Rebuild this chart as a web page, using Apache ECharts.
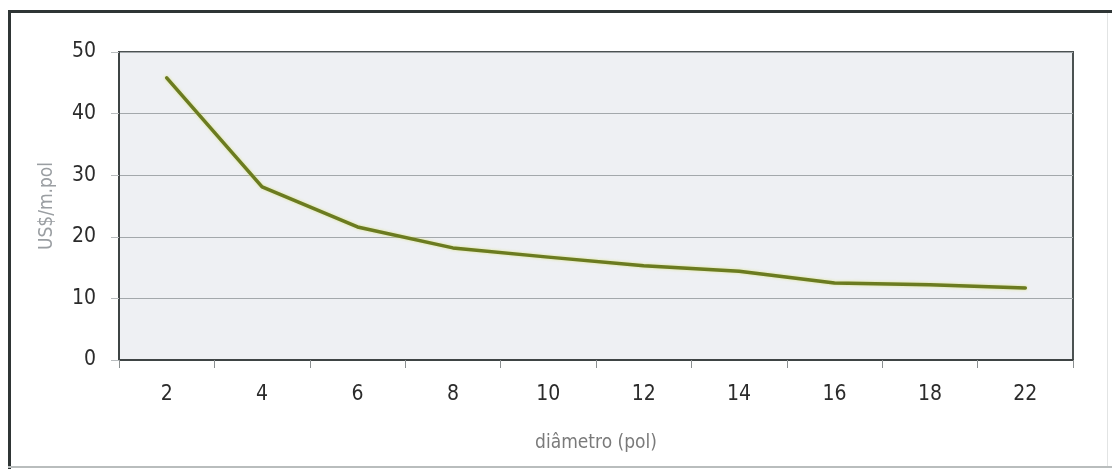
<!DOCTYPE html>
<html>
<head>
<meta charset="utf-8">
<script src="https://cdn.jsdelivr.net/npm/echarts@6/dist/echarts.min.js"></script>
<style>
  html, body { margin: 0; padding: 0; background: #ffffff; }
  #chart { width: 1112px; height: 469px; }
</style>
</head>
<body>
<div id="chart"></div>
<script>
// Custo por metro-polegada em função do diâmetro do duto
const diametros = ['2', '4', '6', '8', '10', '12', '14', '16', '18', '22'];
const custos = [45.8, 28.1, 21.6, 18.2, 16.7, 15.3, 14.4, 12.5, 12.2, 11.7];
const yTicks = [0, 10, 20, 30, 40, 50];

const FONT = '"Liberation Sans Narrow", "DejaVu Sans Condensed", "Liberation Sans", sans-serif';

const chart = echarts.init(document.getElementById('chart'), null, { renderer: 'canvas' });

chart.setOption({
  backgroundColor: '#ffffff',
  animation: false,
  grid: {
    left: 119, top: 52, right: 39, bottom: 109,
    show: true,
    backgroundColor: '#eef0f3',
    borderColor: '#4b5252',
    borderWidth: 2
  },
  xAxis: {
    type: 'category',
    data: diametros,
    boundaryGap: true,
    name: 'diâmetro (pol)',
    nameLocation: 'middle',
    nameGap: 74,
    nameTextStyle: { fontFamily: FONT, fontSize: 19, color: '#7a7a7a' },
    axisLine: { show: true, lineStyle: { color: '#3e4444', width: 2 } },
    axisTick: { show: true, length: 8, inside: false, lineStyle: { color: '#8a8f90', width: 1 } },
    axisLabel: { fontFamily: FONT, fontSize: 21, color: '#2b2b2b', margin: 24 },
    splitLine: { show: false }
  },
  yAxis: {
    type: 'value',
    min: yTicks[0],
    max: yTicks[yTicks.length - 1],
    interval: 10,
    name: 'US$/m.pol',
    nameLocation: 'middle',
    nameGap: 62,
    nameRotate: 90,
    nameTextStyle: { fontFamily: FONT, fontSize: 19, color: '#9a9ea2' },
    axisLine: { show: true, lineStyle: { color: '#3e4444', width: 2 } },
    axisTick: { show: true, length: 8, lineStyle: { color: '#b8bcbe', width: 1 } },
    axisLabel: { fontFamily: FONT, fontSize: 21, color: '#2b2b2b', margin: 23, padding: [0, 0, 6, 0] },
    splitLine: { show: true, lineStyle: { color: '#a3a8ab', width: 1.2 } }
  },
  series: [{
    type: 'line',
    data: custos,
    symbol: 'none',
    smooth: false,
    lineStyle: {
      color: '#6b7b20',
      width: 3.5,
      cap: 'round',
      join: 'round',
      shadowColor: 'rgba(214, 224, 110, 0.8)',
      shadowBlur: 3
    },
    z: 5
  }],
  graphic: [
    // moldura externa
    { type: 'rect', shape: { x: 8, y: 10, width: 1104, height: 3 }, style: { fill: '#2f3535' }, silent: true },
    { type: 'rect', shape: { x: 8, y: 10, width: 3, height: 459 }, style: { fill: '#2f3535' }, silent: true },
    { type: 'rect', shape: { x: 8, y: 466, width: 1104, height: 2 }, style: { fill: '#b9bdbd' }, silent: true },
    { type: 'rect', shape: { x: 1107, y: 13, width: 1, height: 453 }, style: { fill: '#e2e4e4' }, silent: true }
  ]
});
</script>
</body>
</html>
